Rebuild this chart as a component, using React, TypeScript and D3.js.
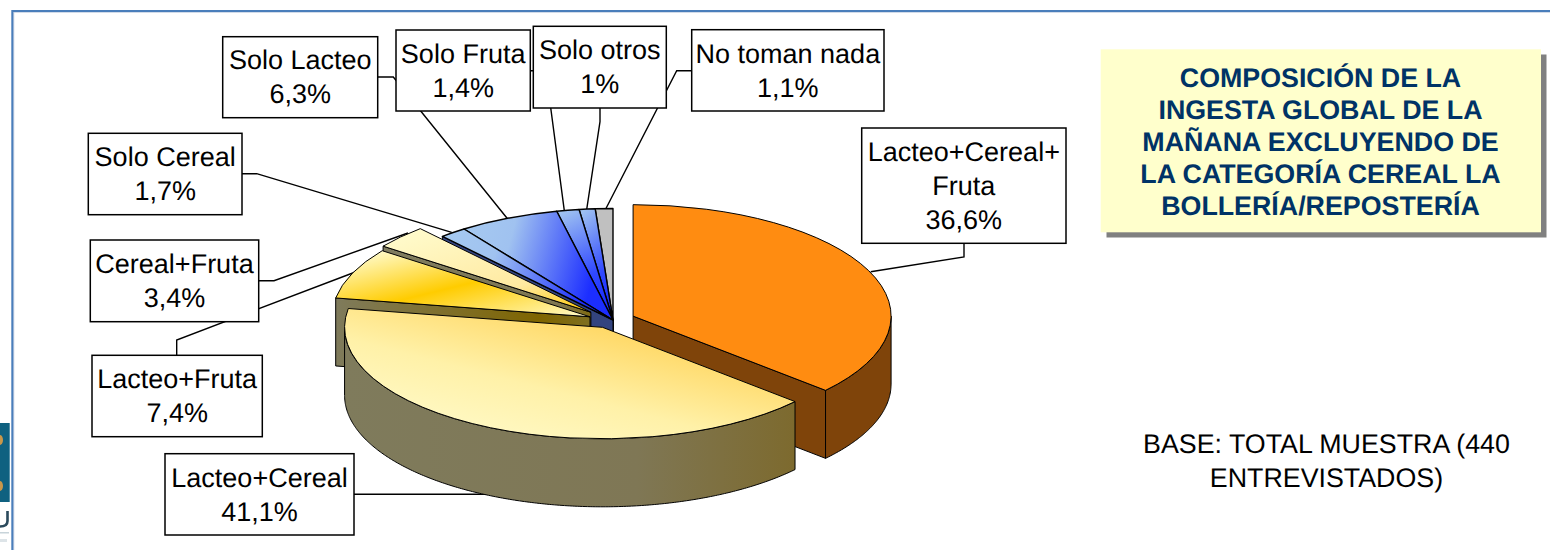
import React, { useRef, useEffect } from 'react';
import * as d3 from 'd3';

// clockwise from 12 o'clock
const categories = ['Lacteo+Cereal+Fruta', 'Lacteo+Cereal', 'Lacteo+Fruta', 'Cereal+Fruta', 'Solo Cereal', 'Solo Lacteo', 'Solo Fruta', 'Solo otros', 'No toman nada'];
const values = [36.6, 41.1, 7.4, 3.4, 1.7, 6.3, 1.4, 1, 1.1];
const titleLines = ['COMPOSICIÓN DE LA', 'INGESTA GLOBAL DE LA', 'MAÑANA EXCLUYENDO DE', 'LA CATEGORÍA CEREAL LA', 'BOLLERÍA/REPOSTERÍA'];
const baseLines = ['BASE: TOTAL MUESTRA (440', 'ENTREVISTADOS)'];

// layout and look of the pie, kept apart from the values
const cx = 613;
const cy = 321;
const radius = 258;
const tilt = 0.432;
const depth = 68;
const sliceStyles = [
  { explode: 22, lift: 1, top: '#FF8C11', wall: '#7F440A' },
  { explode: 24, lift: 3, top: 'url(#topLC)', wall: 'url(#wallLC)' },
  { explode: 25, lift: 0, top: 'url(#topLF)', wall: 'url(#wallLF)' },
  { explode: 30, lift: 0, top: 'url(#topCF)', wall: 'url(#wallCF)' },
  { explode: 0, lift: 1, top: 'url(#blueH)', wall: '#33447F' },
  { explode: 0, lift: 1, top: 'url(#blueH)', wall: '#33447F' },
  { explode: 0, lift: 1, top: 'url(#blueV)', wall: '#33447F' },
  { explode: 0, lift: 1, top: 'url(#blueV)', wall: '#33447F' },
  { explode: 0, lift: 1, top: '#C0C0C0', wall: '#606060' },
];
const paintOrder = [8, 7, 6, 5, 4, 3, 2, 0, 1];

const labelBoxes = [
  { x: 861.7, y: 128, w: 204.3, h: 115.3, lines: ['Lacteo+Cereal+', 'Fruta'], base: [160.7, 195, 229], i: 0 },
  { x: 165, y: 453.7, w: 189, h: 81.3, lines: ['Lacteo+Cereal'], base: [486.7, 520.7], i: 1 },
  { x: 92, y: 355.3, w: 170.3, h: 81.4, lines: ['Lacteo+Fruta'], base: [388, 422], i: 2 },
  { x: 90.3, y: 240, w: 168.4, h: 81.7, lines: ['Cereal+Fruta'], base: [272.7, 306.7], i: 3 },
  { x: 88.3, y: 133.3, w: 153.7, h: 81.4, lines: ['Solo Cereal'], base: [166, 200], i: 4 },
  { x: 222.7, y: 36.7, w: 155, h: 81, lines: ['Solo Lacteo'], base: [69, 103], i: 5 },
  { x: 396, y: 30, w: 134.3, h: 81, lines: ['Solo Fruta'], base: [62.7, 96.7], i: 6 },
  { x: 533.3, y: 26.3, w: 133, h: 81.7, lines: ['Solo otros'], base: [59, 92.7], i: 7 },
  { x: 691.7, y: 29.7, w: 192.3, h: 81.3, lines: ['No toman nada'], base: [63, 96.7], i: 8 },
];

const leaders = [
  [[964, 243], [964, 257], [870.7, 271.7]],
  [[354, 494.3], [490, 494.3]],
  [[176.7, 355], [176.7, 340], [358, 271]],
  [[258.7, 280.7], [274, 280.7], [408, 233]],
  [[242, 173.7], [256.7, 173.7], [451.7, 232.3]],
  [[377.7, 77], [393.3, 77], [507.7, 219]],
  [[530, 70.7], [545.8, 70.7], [564.3, 210.7]],
  [[600, 108], [600, 121.7], [586.7, 209.3]],
  [[691.7, 70.7], [676.7, 70.7], [605.7, 209]],
];

const gradients = [
  { id: 'topLC', x1: 0.1, y1: 0.95, x2: 0.85, y2: 0.1, stops: [[0, '#FFFBCC'], [0.42, '#FFF1A8'], [0.8, '#FFD968'], [1, '#FFE08A']] },
  { id: 'wallLC', x1: 0, y1: 0, x2: 1, y2: 0, stops: [[0, '#7F7B5C'], [0.65, '#7F7755'], [1, '#7D6A2E']] },
  { id: 'topLF', x1: 0.1, y1: 0.05, x2: 1, y2: 1, stops: [[0, '#FFFBCC'], [0.47, '#FFCC00'], [1, '#FFFBCC']] },
  { id: 'wallLF', x1: 0, y1: 0, x2: 1, y2: 0, stops: [[0, '#7F7B5C'], [0.8, '#7F6500'], [1, '#7F6F20']] },
  { id: 'topCF', x1: 0.15, y1: 0, x2: 1, y2: 1, stops: [[0, '#FFFBCC'], [0.65, '#FFE9A0'], [1, '#FFC800']] },
  { id: 'wallCF', x1: 0, y1: 0, x2: 1, y2: 0, stops: [[0, '#7F7C60'], [0.85, '#7F7750'], [1, '#7F6A10']] },
  { id: 'blueH', x1: 0, y1: 0, x2: 1, y2: 0.2, stops: [[0, '#A6CAF0'], [0.35, '#A0C2F0'], [0.95, '#1C2EFF'], [1, '#1C2EFF']] },
  { id: 'blueV', x1: 0, y1: 0, x2: 0.25, y2: 1, stops: [[0, '#A6CAF0'], [0.7, '#3048FF'], [1, '#1C2EFF']] },
];

const pct = (v: number) => String(v).replace('.', ',') + '%';
const ARIAL = '"Liberation Sans", Arial, sans-serif';

const App = () => {
  const svgRef = useRef<SVGSVGElement>(null);

  useEffect(() => {
    const svg = d3.select(svgRef.current);
    svg.selectAll('*').remove();
    svg.attr('text-rendering', 'geometricPrecision');

    const defs = svg.append('defs');
    gradients.forEach(g => {
      const lg = defs.append('linearGradient').attr('id', g.id)
        .attr('x1', g.x1).attr('y1', g.y1).attr('x2', g.x2).attr('y2', g.y2);
      g.stops.forEach(s => lg.append('stop').attr('offset', s[0]).attr('stop-color', s[1]));
    });

    // logo cut off by the slide frame, only a sliver of it shows
    svg.append('rect').attr('x', 0).attr('y', 423).attr('width', 9.7).attr('height', 79).attr('fill', '#0F6180');
    [440, 486].forEach(y => svg.append('ellipse').attr('cx', 0).attr('cy', y).attr('rx', 3).attr('ry', 5).attr('fill', '#C9974A'));
    svg.append('path').attr('d', 'M7.5,511V521Q7.5,526.5,0,526.5').attr('fill', 'none').attr('stroke', '#2B4A5C').attr('stroke-width', 2.6);
    svg.append('rect').attr('x', 0).attr('y', 532).attr('width', 9).attr('height', 1.5).attr('fill', '#C8D4DA');
    svg.append('rect').attr('x', 0).attr('y', 539).attr('width', 7).attr('height', 3).attr('fill', '#DDE4E8');

    // slide frame
    const frame = d3.line()([[13.5, 550], [13.5, 12], [1550, 12]]);
    svg.append('path').attr('d', frame).attr('fill', 'none').attr('stroke', '#C3D0E2').attr('stroke-width', 1.5);
    const frame2 = d3.line()([[12.3, 550], [12.3, 11], [1550, 11]]);
    svg.append('path').attr('d', frame2).attr('fill', 'none').attr('stroke', '#4A7EBB').attr('stroke-width', 2);

    // leaders sit under the pie and the boxes
    const leaderLine = d3.line();
    leaders.forEach(l => {
      svg.append('path').attr('d', leaderLine(l as [number, number][])).attr('fill', 'none')
        .attr('stroke', '#000').attr('stroke-width', 1.4);
    });

    const pie = d3.pie<number>().sort(null).startAngle(0).endAngle(2 * Math.PI);
    const arcs = pie(values);
    const arcGen = d3.arc<d3.PieArcDatum<number>>().innerRadius(0).outerRadius(radius);
    const wallLine = d3.line().curve(d3.curveLinearClosed);
    const pieG = svg.append('g');

    paintOrder.forEach(i => {
      const a = arcs[i];
      const s = sliceStyles[i];
      const mid = (a.startAngle + a.endAngle) / 2;
      const ox = cx + s.explode * Math.sin(mid);
      const oy = cy - s.explode * Math.cos(mid) * tilt - s.lift;
      const rim = (t: number): [number, number] => [ox + radius * Math.sin(t), oy - radius * Math.cos(t) * tilt];
      const down = (p: [number, number]): [number, number] => [p[0], p[1] + depth];

      const drawCut = (t: number) => {
        const r = rim(t);
        const pts: [number, number][] = [[ox, oy], r, down(r), [ox, oy + depth]];
        pieG.append('path').attr('d', wallLine(pts)).attr('fill', s.wall).attr('stroke', '#000').attr('stroke-width', 1);
      };
      if (Math.sin(a.startAngle) < 0) drawCut(a.startAngle);
      if (Math.sin(a.endAngle) > 0) drawCut(a.endAngle);

      // front rim wall, only the part facing the viewer
      const from = Math.max(a.startAngle, Math.PI / 2);
      const to = Math.min(a.endAngle, 1.5 * Math.PI);
      if (to > from) {
        const ts = d3.range(from, to, 0.01).concat([to]);
        const upper = ts.map(rim);
        const lower = upper.map(down).reverse();
        pieG.append('path').attr('d', wallLine(upper.concat(lower))).attr('fill', s.wall)
          .attr('stroke', '#000').attr('stroke-width', 1);
      }

      pieG.append('path').attr('d', arcGen(a))
        .attr('transform', `translate(${ox},${oy}) scale(1,${tilt})`)
        .attr('fill', s.top).attr('stroke', '#000').attr('stroke-width', i > 3 ? 1.4 : 1)
        .attr('vector-effect', 'non-scaling-stroke').attr('stroke-linejoin', 'round');
    });

    // data labels
    labelBoxes.forEach(b => {
      svg.append('rect').attr('x', b.x).attr('y', b.y).attr('width', b.w).attr('height', b.h)
        .attr('fill', '#fff').attr('stroke', '#000').attr('stroke-width', 1.5);
      const txt = b.lines.concat([pct(values[b.i])]);
      txt.forEach((t, k) => {
        svg.append('text').attr('x', b.x + b.w / 2).attr('y', b.base[k]).attr('text-anchor', 'middle')
          .attr('font-family', ARIAL).attr('font-size', 27).attr('fill', '#000').text(t);
      });
    });

    // title note
    svg.append('rect').attr('x', 1106.5).attr('y', 54.5).attr('width', 440).attr('height', 183).attr('fill', '#808080');
    svg.append('rect').attr('x', 1100.7).attr('y', 49.3).attr('width', 440.3).attr('height', 183).attr('fill', '#FFFFCC');
    titleLines.forEach((t, k) => {
      svg.append('text').attr('x', 1320.5).attr('y', 87.3 + k * 32).attr('text-anchor', 'middle')
        .attr('font-family', ARIAL).attr('font-weight', 'bold').attr('font-size', 26.8).attr('fill', '#003366').text(t);
    });

    baseLines.forEach((t, k) => {
      svg.append('text').attr('x', 1326.5).attr('y', 453.3 + k * 33.4).attr('text-anchor', 'middle')
        .attr('font-family', ARIAL).attr('font-size', 26.8).attr('fill', '#000').text(t);
    });
  }, []);

  return (
    <svg
      ref={svgRef}
      width={1550}
      height={550}
      style={{ position: 'absolute', left: 0, top: 0, display: 'block', background: '#fff' }}
    />
  );
};

export default App;
